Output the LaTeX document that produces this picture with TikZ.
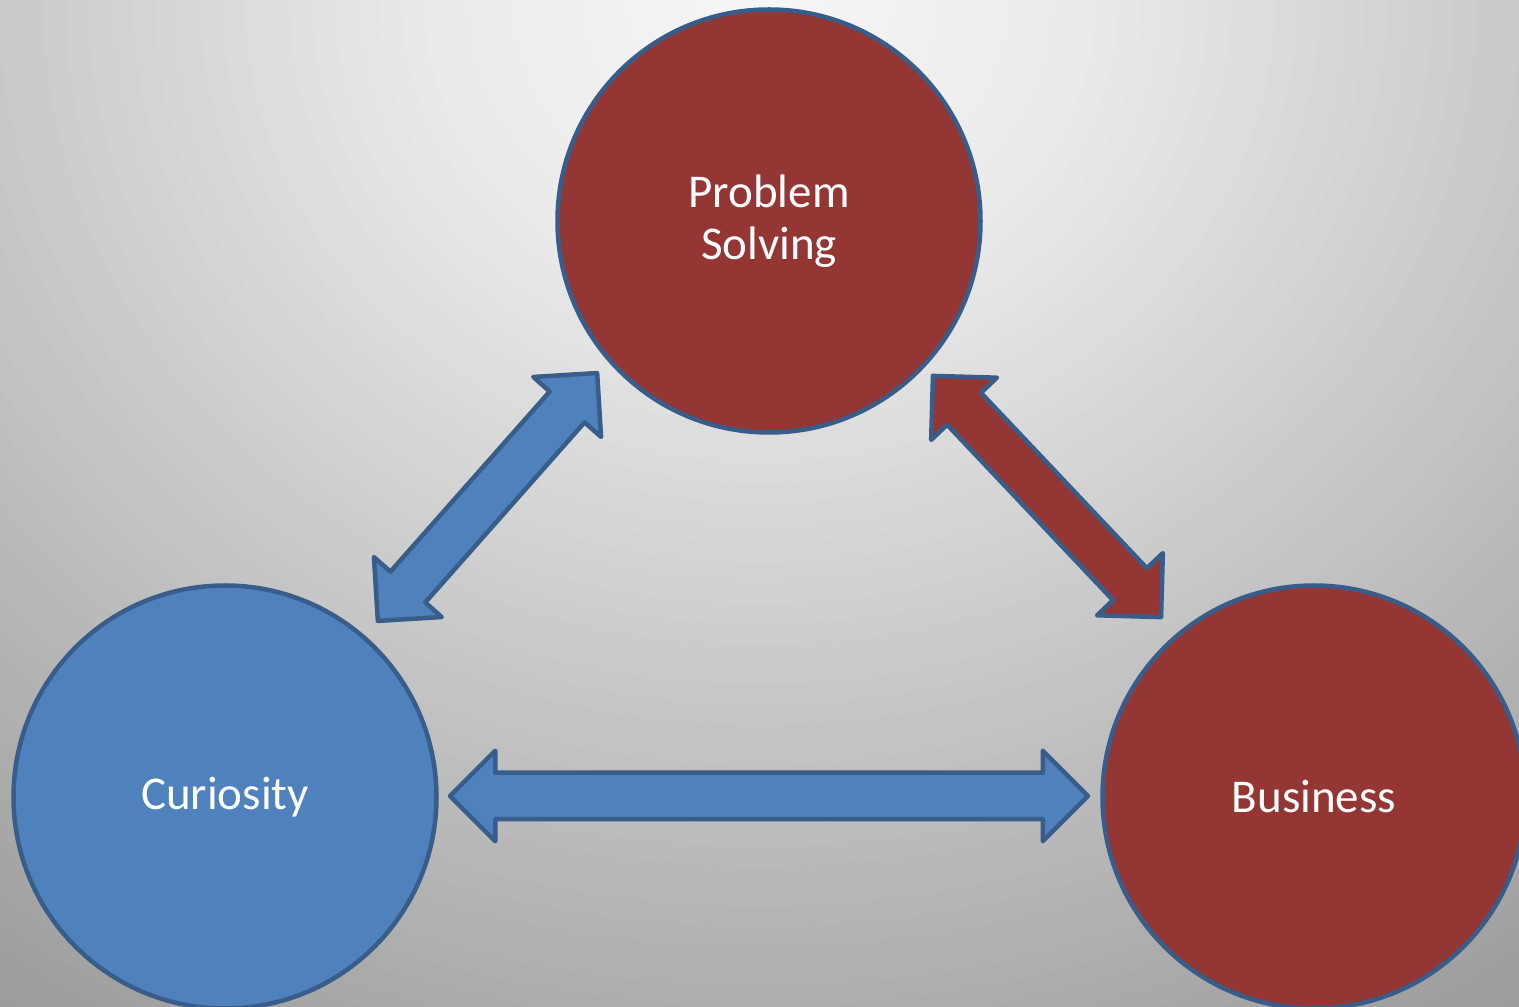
\documentclass[tikz,border=0pt]{standalone}
\usepackage{fontspec}
\setmainfont{Carlito}
\usepackage{tikz}
\usetikzlibrary{shapes,arrows,positioning,calc}

\definecolor{edgeblue}{RGB}{56,93,138}
\definecolor{skyblue}{RGB}{79,129,189}
\definecolor{brick}{RGB}{148,54,52}

\begin{document}
\begin{tikzpicture}[
    x=1pt, y=1pt,
    blob/.style={circle, draw=edgeblue, line width=4.5pt, minimum size=423pt, inner sep=0pt,
                 text=white, font=\fontsize{47}{52}\selectfont, align=center},
    blueblob/.style={blob, fill=skyblue},
    redblob/.style={blob, fill=brick},
    bluelink/.style={double arrow, draw=edgeblue, fill=skyblue, line width=4.5pt, line join=round,
                     inner xsep=0pt, inner ysep=21pt, minimum width=88pt,
                     double arrow head extend=22pt, double arrow tip angle=90},
    redlink/.style={bluelink, fill=brick}
]
    \useasboundingbox (0,0) rectangle (1519,1007);
    \clip (0,0) rectangle (1519,1007);

    % Backdrop, light at the top, darker towards the corners
    \foreach \k in {66,65,...,1} {
        \pgfmathsetmacro\d{\k/50}
        \pgfmathtruncatemacro\g{\d<0.3 ? 247-40*\d : 261-86.6*\d}
        \fill[color={rgb,255:red,\g;green,\g;blue,\g}] (760,1007) ellipse [x radius=1120*\d, y radius=1007*\d];
    }

    % Three topics
    \node[redblob] (ps) at (769,786) {Problem\\Solving};
    \node[blueblob] (cur) at (225,210) {Curiosity};
    \node[redblob] (biz) at (1314,210) {Business};

    % Two-way links
    \node[bluelink, minimum height=638pt] (curbiz) at (769,211) {};
    \node[bluelink, minimum height=331pt, rotate=48.5] (curps) at (487.5,510) {};
    \node[redlink, minimum height=332pt, rotate=-46.6] (psbiz) at (1047,510.5) {};
\end{tikzpicture}
\end{document}
